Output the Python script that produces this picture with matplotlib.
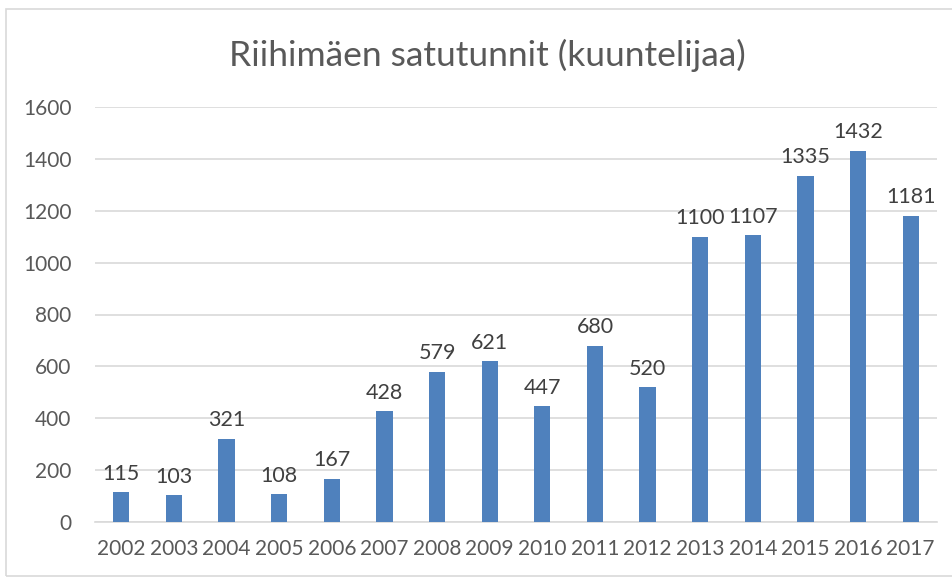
import matplotlib
matplotlib.use("Agg")
import matplotlib.pyplot as plt
from matplotlib.patches import Rectangle

plt.rcParams['font.family'] = ['Lato', 'DejaVu Sans']

vuodet = ["2002", "2003", "2004", "2005", "2006", "2007", "2008", "2009",
          "2010", "2011", "2012", "2013", "2014", "2015", "2016", "2017"]
kuuntelijat = [115, 103, 321, 108, 167, 428, 579, 621,
               447, 680, 520, 1100, 1107, 1335, 1432, 1181]
y_ticks = [0, 200, 400, 600, 800, 1000, 1200, 1400, 1600]

harmaa = "#595959"

fig = plt.figure(figsize=(9.52, 5.8), dpi=100)
ax = fig.add_axes([95 / 952, 58 / 580, 842 / 952, 415 / 580])

# kehys kaavion ympari
fig.patches.append(Rectangle((6 / 952, 4 / 580), 1.0, 567 / 580,
                             transform=fig.transFigure, fill=False,
                             edgecolor="#D9D9D9", linewidth=1.2))

x = range(len(vuodet))
bars = ax.bar(x, kuuntelijat, width=0.31, color="#4F81BD", zorder=3)
for b, v in zip(bars, kuuntelijat):
    ax.annotate(str(v), (b.get_x() + b.get_width() / 2, v),
                xytext=(0, 6), textcoords="offset points",
                ha="center", va="bottom", fontsize=15.5, color="#404040")

ax.set_xlim(-0.5, len(vuodet) - 0.5)
ax.set_ylim(0, 1600)
ax.set_yticks(y_ticks)
ax.set_xticks(list(x))
ax.set_xticklabels(vuodet)
ax.tick_params(axis="both", length=0, labelsize=15, labelcolor=harmaa)
ax.tick_params(axis="y", pad=17)
ax.tick_params(axis="x", pad=12)
ax.grid(axis="y", color="#D9D9D9", linewidth=1.2, zorder=0)
for s in ["top", "right", "left"]:
    ax.spines[s].set_visible(False)
ax.spines["bottom"].set_color("#D9D9D9")
ax.spines["bottom"].set_linewidth(1.2)

fig.text(487 / 952, 1 - 55 / 580, "Riihimäen satutunnit (kuuntelijaa)",
         ha="center", va="center", fontsize=25.5, color=harmaa)

fig.savefig("out.png", dpi=100)
